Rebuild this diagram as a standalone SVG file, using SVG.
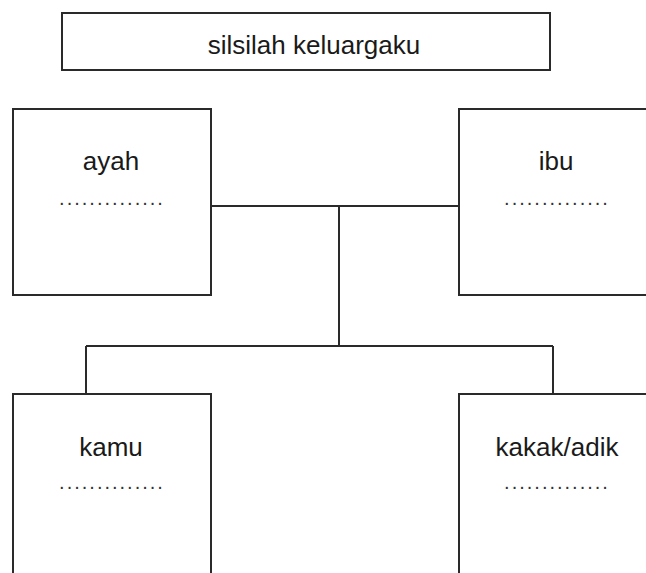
<svg xmlns="http://www.w3.org/2000/svg" width="646" height="573" viewBox="0 0 646 573">
<style>
.box{fill:#fff;stroke:#2a2a2a;stroke-width:2}
.lbl{font-family:"Liberation Sans",Arial,Helvetica,sans-serif;font-size:26px;fill:#1a1a1a;text-anchor:middle}
.dots{font-family:"Liberation Sans",Arial,Helvetica,sans-serif;font-size:20px;letter-spacing:2px;fill:#333;text-anchor:middle}
.con{fill:none;stroke:#2a2a2a;stroke-width:2}
</style>
<rect width="646" height="573" fill="#fff"/>
<g id="title">
<rect class="box" x="62" y="13" width="488" height="57"/>
<text class="lbl" x="314" y="54">silsilah keluargaku</text>
</g>
<g id="connectors">
<path class="con" d="M211 206 H459"/>
<path class="con" d="M339 206 V346"/>
<path class="con" d="M86 346 H553"/>
<path class="con" d="M86 346 V394"/>
<path class="con" d="M553 346 V394"/>
</g>
<g id="ayah">
<rect class="box" x="13" y="109" width="198" height="186"/>
<text class="lbl" x="111" y="170">ayah</text>
<text class="dots" x="112" y="205">..............</text>
</g>
<g id="ibu">
<rect class="box" x="459" y="109" width="198" height="186"/>
<text class="lbl" x="556" y="170">ibu</text>
<text class="dots" x="557" y="205">..............</text>
</g>
<g id="kamu">
<rect class="box" x="13" y="394" width="198" height="200"/>
<text class="lbl" x="111" y="456">kamu</text>
<text class="dots" x="112" y="489">..............</text>
</g>
<g id="kakak">
<rect class="box" x="459" y="394" width="198" height="200"/>
<text class="lbl" x="557" y="456">kakak/adik</text>
<text class="dots" x="557" y="489">..............</text>
</g>
</svg>
